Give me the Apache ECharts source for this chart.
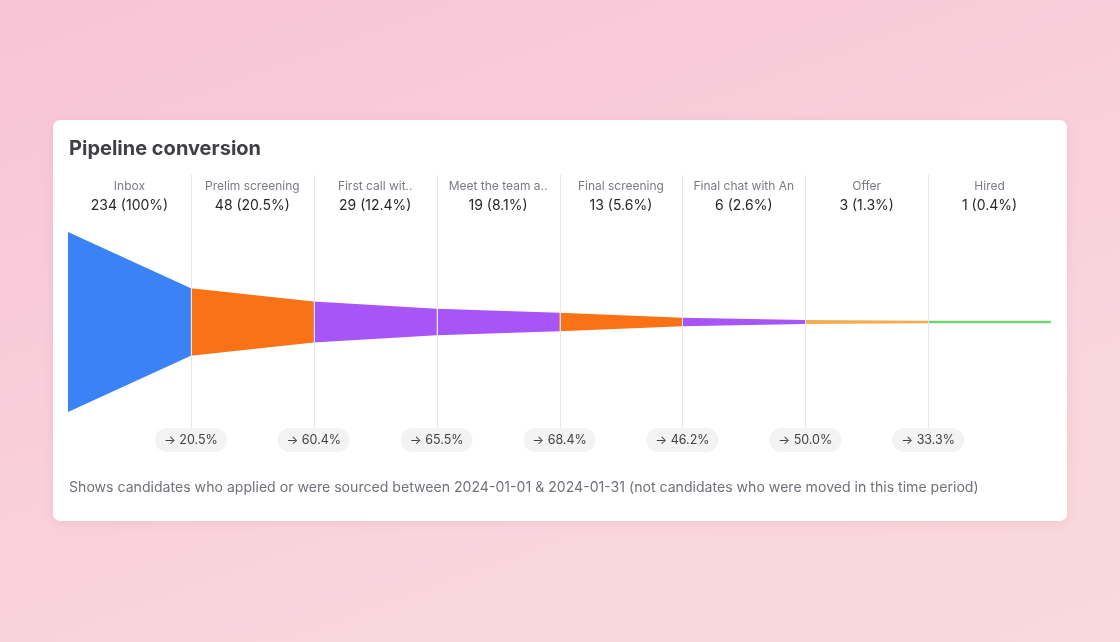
<!DOCTYPE html>
<html>
<head>
<meta charset="utf-8">
<script src="https://cdn.jsdelivr.net/npm/echarts@6/dist/echarts.min.js"></script>
<style>
  html, body { margin: 0; padding: 0; width: 1120px; height: 642px; overflow: hidden; }
  body {
    background: linear-gradient(160deg, #f8c4d6 0%, #f9ccda 35%, #f9d4dc 65%, #f9d9dd 100%);
    font-family: Inter, "Noto Sans", sans-serif;
    position: relative;
  }
  .card {
    position: absolute; left: 53px; top: 120px; width: 1014px; height: 401px;
    background: #fff; border-radius: 7px;
    box-shadow: 0 2px 10px rgba(180, 90, 120, 0.12);
  }
  #chart { width: 1014px; height: 401px; }
</style>
</head>
<body>
<div class="card"><div id="chart"></div></div>
<script>
  // Stages of the hiring pipeline (labels as shown, truncated in the UI)
  var stages = ['Inbox', 'Prelim screening', 'First call wit..', 'Meet the team a..',
                'Final screening', 'Final chat with An', 'Offer', 'Hired'];
  var counts = [234, 48, 29, 19, 13, 6, 3, 1];
  var shares = ['100%', '20.5%', '12.4%', '8.1%', '5.6%', '2.6%', '1.3%', '0.4%'];
  // step conversion between consecutive stages
  var conversions = ['20.5%', '60.4%', '65.5%', '68.4%', '46.2%', '50.0%', '33.3%'];

  var segColors = ['#3b82f6', '#f97316', '#a855f7', '#a855f7', '#f97316', '#a855f7', '#f3ad4e', '#6fd470'];

  var FONT = 'Inter, "Noto Sans", sans-serif';
  var Y_CAP = 64;

  var chart = echarts.init(document.getElementById('chart'), null, { renderer: 'canvas' });

  // funnel bands: each segment goes from its own count to the next stage's count
  var bandData = counts.map(function (c, i) {
    var next = i < counts.length - 1 ? counts[i + 1] : c;
    return [i, c, next];
  });

  function renderBand(params, api) {
    var i = api.value(0);
    var h0 = Math.min(api.value(1) / 2, Y_CAP);
    var h1 = Math.min(api.value(2) / 2, Y_CAP);
    var a = api.coord([i, h0]), b = api.coord([i + 1, h1]);
    var c = api.coord([i + 1, -h1]), d = api.coord([i, -h0]);
    var mid = api.coord([i, 0])[1];
    // keep very thin stages visible
    var minHalf = 1.3;
    if (mid - a[1] < minHalf) { a[1] = mid - minHalf; d[1] = mid + minHalf; }
    if (mid - b[1] < minHalf) { b[1] = mid - minHalf; c[1] = mid + minHalf; }
    return {
      type: 'polygon',
      shape: { points: [a, b, c, d] },
      style: { fill: segColors[params.dataIndex] }
    };
  }

  function renderDivider(params, api) {
    var cs = params.coordSys;
    var x = Math.round(api.coord([api.value(0), 0])[0]) + 0.5;
    return {
      type: 'line',
      z2: 5,
      shape: { x1: x, y1: cs.y - 57, x2: x, y2: cs.y + cs.height + 16 },
      style: { stroke: '#e6e6e9', lineWidth: 1 }
    };
  }

  function renderPill(params, api) {
    var cs = params.coordSys;
    var x = api.coord([api.value(0), 0])[0];
    var y = cs.y + cs.height + 28;
    var w = 72, h = 24;
    return {
      type: 'group',
      children: [{
        type: 'rect',
        shape: { x: x - w / 2, y: y - h / 2, width: w, height: h, r: 12 },
        style: { fill: '#f3f3f4' }
      }, {
        type: 'text',
        style: {
          x: x, y: y + 0.5, text: '\u2192 ' + conversions[params.dataIndex],
          fill: '#3f3f46', font: '400 12.5px ' + FONT, align: 'center', verticalAlign: 'middle'
        }
      }]
    };
  }

  chart.setOption({
    animation: false,
    title: {
      text: 'Pipeline conversion',
      left: 11, top: 14,
      textStyle: { fontFamily: FONT, fontSize: 20, fontWeight: 700, color: '#3f3f46' }
    },
    graphic: [{
      type: 'text',
      left: 16, top: 361,
      style: {
        text: 'Shows candidates who applied or were sourced between 2024-01-01 & 2024-01-31 (not candidates who were moved in this time period)',
        fill: '#71717a', font: '400 14.1px ' + FONT
      }
    }],
    grid: { left: 15, right: 16, top: 112, bottom: 109 },
    xAxis: [{
      type: 'value', min: 0, max: stages.length,
      show: false
    }, {
      type: 'category',
      position: 'top',
      data: stages,
      boundaryGap: true,
      axisLine: { show: false },
      axisTick: { show: false },
      splitLine: { show: false },
      axisLabel: {
        interval: 0,
        margin: 17,
        formatter: function (v, idx) {
          return '{n|' + v + '}\n{v|' + counts[idx] + ' (' + shares[idx] + ')}';
        },
        rich: {
          n: { fontFamily: FONT, fontSize: 12, color: '#7a7a83', lineHeight: 19 },
          v: { fontFamily: FONT, fontSize: 14, color: '#27272a', lineHeight: 19 }
        }
      }
    }],
    yAxis: { type: 'value', min: -Y_CAP, max: Y_CAP, show: false },
    series: [{
      type: 'custom',
      xAxisIndex: 0,
      renderItem: renderBand,
      data: bandData,
      silent: true,
      z: 1
    }, {
      type: 'custom',
      xAxisIndex: 0,
      renderItem: renderDivider,
      data: conversions.map(function (_, i) { return [i + 1]; }),
      clip: false,
      silent: true,
      z: 2
    }, {
      type: 'custom',
      xAxisIndex: 0,
      renderItem: renderPill,
      data: conversions.map(function (_, i) { return [i + 1]; }),
      clip: false,
      silent: true,
      z: 3
    }]
  });
</script>
</body>
</html>
